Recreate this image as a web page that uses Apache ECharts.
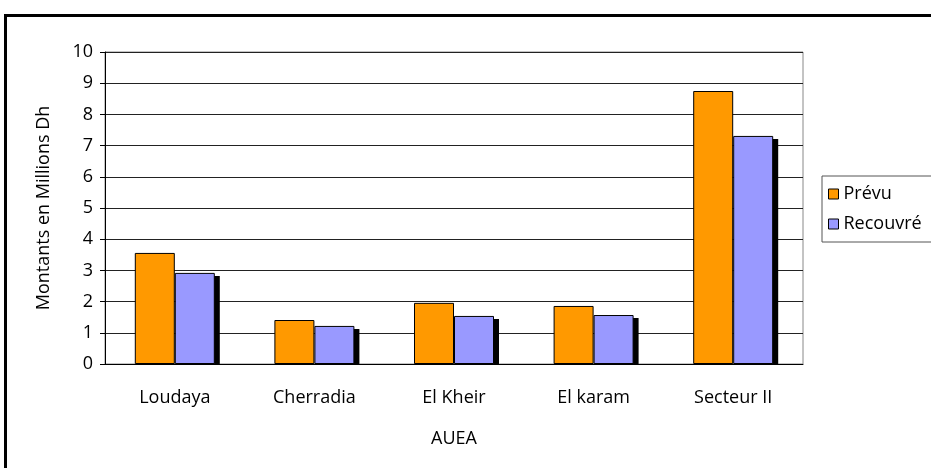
<!DOCTYPE html>
<html><head><meta charset="utf-8">
<script src="https://cdn.jsdelivr.net/npm/echarts@6/dist/echarts.min.js"></script>
<style>html,body{margin:0;padding:0;background:#fff}#c{width:931px;height:468px}</style>
</head><body><div id="c"></div>
<script>
const categories = ['Loudaya', 'Cherradia', 'El Kheir', 'El karam', 'Secteur II'];
const prevu = [3.56, 1.41, 1.96, 1.86, 8.75];
const recouvre = [2.92, 1.22, 1.54, 1.57, 7.31];
const seriesNames = ['Prévu', 'Recouvré'];
const yTicks = [0, 10, 1];
const font = 'Open Sans';
const BW = 40;
const chart = echarts.init(document.getElementById('c'));
chart.setOption({
  animation: false,
  textStyle: {fontFamily: font},
  graphic: [{type: 'rect', shape: {x: 5.5, y: 15.5, width: 1000, height: 1000}, style: {fill: 'none', stroke: '#000', lineWidth: 3}, z: 100}],
  grid: {left: 105, right: 128, top: 52, bottom: 104, show: true, borderColor: '#888', borderWidth: 1},
  legend: {
    orient: 'vertical', left: 822, top: 176, itemWidth: 10, itemHeight: 10, itemGap: 12,
    padding: [9, 30, 9, 6], borderColor: '#555', borderWidth: 1,
    textStyle: {fontSize: 18, color: '#000', fontFamily: font, padding: [0, 0, 0, 0]},
    icon: 'rect',
    data: seriesNames.map(n => ({name: n, itemStyle: {borderColor: '#000', borderWidth: 1}}))
  },
  xAxis: {
    type: 'category', data: categories,
    name: 'AUEA', nameLocation: 'middle', nameGap: 66,
    nameTextStyle: {fontSize: 18, color: '#000'},
    axisLine: {lineStyle: {color: '#000'}},
    axisTick: {length: 5, lineStyle: {color: '#000'}},
    axisLabel: {fontSize: 18, color: '#000', margin: 25}
  },
  yAxis: {
    type: 'value', min: yTicks[0], max: yTicks[1], interval: yTicks[2],
    name: 'Montants en Millions Dh', nameLocation: 'middle', nameGap: 52,
    nameTextStyle: {fontSize: 18, color: '#000'},
    axisLine: {show: true, lineStyle: {color: '#000'}},
    axisTick: {show: true, length: 5, lineStyle: {color: '#000'}},
    axisLabel: {fontSize: 18, color: '#000', margin: 12},
    splitLine: {lineStyle: {color: '#222'}}
  },
  series: [
    {name: seriesNames[0], type: 'bar', data: prevu, barWidth: BW, barGap: '0%', z: 3,
     itemStyle: {color: '#FF9900', borderColor: '#000', borderWidth: 1}},
    {name: seriesNames[1], type: 'bar', data: recouvre, barWidth: BW, barGap: '0%', z: 3,
     itemStyle: {color: '#9999FF', borderColor: '#000', borderWidth: 1}},
    {type: 'custom', name: 'shadow', data: recouvre, z: 2, silent: true,
     renderItem: function (params, api) {
       const top = api.coord([api.value(0), api.value(1)]);
       const base = api.coord([api.value(0), 0]);
       return {type: 'rect', shape: {x: top[0] + 5, y: top[1] + 3, width: BW, height: base[1] - top[1] - 3},
               style: {fill: '#000'}};
     },
     encode: {x: 0, y: 1}}
  ]
});
</script></body></html>
